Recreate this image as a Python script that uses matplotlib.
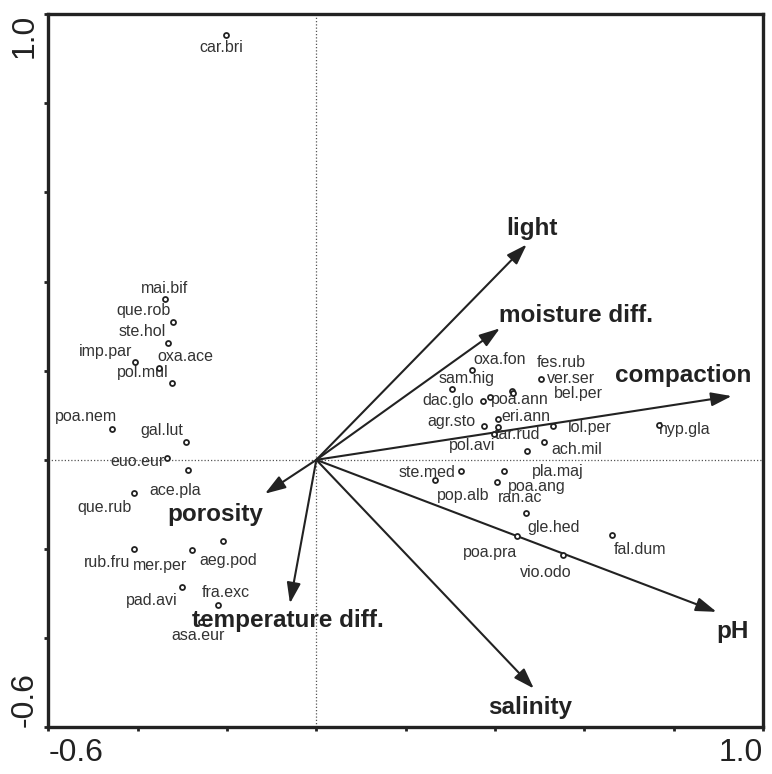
import matplotlib
matplotlib.use('Agg')
import matplotlib.pyplot as plt

plt.rcParams['font.family'] = ['Liberation Sans', 'DejaVu Sans']

# species scores (axis 1, axis 2)
species = ['car.bri', 'mai.bif', 'que.rob', 'ste.hol', 'imp.par', 'oxa.ace',
           'pol.mul', 'poa.nem', 'gal.lut', 'euo.eur', 'ace.pla', 'que.rub',
           'aeg.pod', 'rub.fru', 'mer.per', 'pad.avi', 'fra.exc', 'asa.eur',
           'oxa.fon', 'sam.nig', 'ver.ser', 'fes.rub', 'bel.per', 'dac.glo',
           'poa.ann', 'eri.ann', 'agr.sto', 'pol.avi', 'tar.rud', 'lol.per',
           'ach.mil', 'pla.maj', 'hyp.gla', 'ste.med', 'poa.ang', 'pop.alb',
           'ran.ac', 'gle.hed', 'poa.pra', 'vio.odo', 'fal.dum']
species_x = [-0.203, -0.339, -0.321, -0.331, -0.407, -0.352,
             -0.324, -0.458, -0.292, -0.334, -0.287, -0.408,
             -0.208, -0.409, -0.279, -0.300, -0.221, -0.258,
             0.348, 0.303, 0.502, 0.437, 0.440, 0.374,
             0.389, 0.406, 0.376, 0.406, 0.398, 0.529,
             0.510, 0.472, 0.767, 0.323, 0.420, 0.266,
             0.405, 0.469, 0.449, 0.552, 0.663]
species_y = [0.954, 0.360, 0.310, 0.262, 0.219, 0.206,
             0.172, 0.069, 0.040, 0.005, -0.023, -0.074,
             -0.182, -0.201, -0.203, -0.285, -0.325, -0.364,
             0.201, 0.160, 0.182, 0.154, 0.149, 0.132,
             0.141, 0.092, 0.077, 0.074, 0.057, 0.075,
             0.040, 0.020, 0.078, -0.025, -0.025, -0.046,
             -0.050, -0.119, -0.171, -0.213, -0.169]

# environmental variable arrows
env = ['light', 'moisture diff.', 'compaction', 'pH', 'salinity',
       'temperature diff.', 'porosity']
env_x = [0.471, 0.411, 0.930, 0.896, 0.487, -0.059, -0.115]
env_y = [0.483, 0.295, 0.143, -0.341, -0.513, -0.322, -0.076]

# label placement (pixel offsets from the point, y up)
species_nudge = [(-4.7, -12.6), (-0.7, 11.3), (-29.3, 11.3), (-26, 11.7), (-29, 11), (26, 11.7),
                 (-28.4, 10.7), (-25.4, 13), (-23.7, 11.7), (-29.3, -3.5), (-12.6, -20.7), (-29.7, -14.2),
                 (5, -19.2), (-26.4, -13.4), (-31.5, -14.8), (-30.2, -14), (8, 12.3), (-3, -13.7),
                 (27.6, 10.7), (15, 10), (30, 0), (49.3, 28.3), (65.7, 0.3), (-35, 0),
                 (29.3, -2.3), (28.3, 2.7), (-33, 4.3), (-26, -18.3), (23, 0), (37.6, -0.7),
                 (32.7, -7.6), (30.4, -20.3), (26, -4.3), (-34, -1.9), (33.3, -15.2), (28.3, -15),
                 (23.4, -15), (28, -14.6), (-26.7, -16), (-16.7, -17.4), (27.7, -14)]
env_nudge = [(5.6, 16), (76.5, 13.3), (-48.4, 21), (16, -20), (-3.3, -19),
             (-1.7, -16.7), (-50, -20.7)]

INK = '#222222'


def px_to_pt(v):
    return v * 72.0 / 100.0


def main():
    fig = plt.figure(figsize=(7.72, 7.74), dpi=100)
    ax = fig.add_axes([0.0626, 0.0603, 0.9257, 0.9216])
    ax.set_xlim(-0.6, 1.0)
    ax.set_ylim(-0.6, 1.0)

    ax.axhline(0, color='#555555', lw=0.9, ls=(0, (1, 1.6)), zorder=1)
    ax.axvline(0, color='#555555', lw=0.9, ls=(0, (1, 1.6)), zorder=1)

    for name, x, y, (dx, dy) in zip(env, env_x, env_y, env_nudge):
        ax.annotate('', xy=(x, y), xytext=(0, 0),
                    arrowprops=dict(arrowstyle='-|>,head_length=1.25,head_width=0.42',
                                    mutation_scale=10, lw=1.5, color=INK,
                                    shrinkA=0, shrinkB=0), zorder=3)
        ax.annotate(name, xy=(x, y), xytext=(px_to_pt(dx), px_to_pt(dy)),
                    textcoords='offset points', ha='center', va='center',
                    fontsize=17.5, fontweight='bold', color=INK, zorder=4)

    ax.plot(species_x, species_y, 'o', ms=3.6, mfc='white', mec=INK, mew=1.3,
            ls='none', zorder=5)
    for name, x, y, (dx, dy) in zip(species, species_x, species_y, species_nudge):
        ax.annotate(name, xy=(x, y), xytext=(px_to_pt(dx), px_to_pt(dy)),
                    textcoords='offset points', ha='center', va='center',
                    fontsize=11.5, color='#333333', zorder=4)

    ticks = [-0.6, -0.4, -0.2, 0.0, 0.2, 0.4, 0.6, 0.8, 1.0]
    tick_labels = ['-0.6', '', '', '', '', '', '', '', '1.0']
    ax.set_xticks(ticks)
    ax.set_xticklabels(tick_labels)
    ax.set_yticks(ticks)
    ax.set_yticklabels(tick_labels)
    ax.tick_params(direction='out', length=3, width=2, color=INK,
                   labelsize=23, labelcolor=INK)
    ax.tick_params(axis='x', pad=5)
    ax.tick_params(axis='y', pad=3)

    xl = ax.get_xticklabels()
    xl[0].set_ha('left')
    xl[-1].set_ha('right')
    yl = ax.get_yticklabels()
    for lab in yl:
        lab.set_rotation(90)
        lab.set_ha('right')
    yl[0].set_va('bottom')
    yl[-1].set_va('top')

    for sp in ax.spines.values():
        sp.set_linewidth(2.4)
        sp.set_color(INK)

    fig.savefig('out.png', dpi=100)
    plt.close('all')


if __name__ == '__main__':
    main()
